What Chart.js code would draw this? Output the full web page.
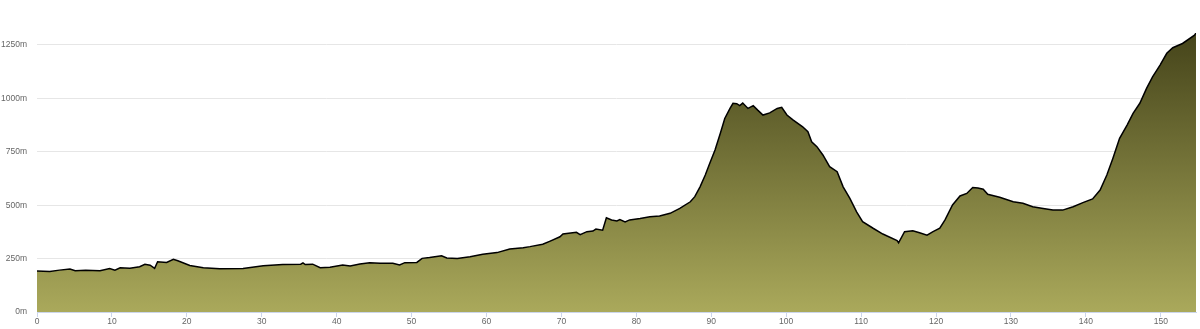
<!DOCTYPE html>
<html>
<head>
<meta charset="utf-8">
<script src="https://cdn.jsdelivr.net/npm/chart.js@4"></script>
<style>
  html, body { margin: 0; padding: 0; background: #fff; }
</style>
</head>
<body>
<canvas id="perfil" width="1200" height="329"></canvas>
<script>
const km = [
  0, 1.7, 3.0, 4.4, 5.1, 6.5, 8.4, 9.7, 10.4, 11.1, 12.4, 13.7, 14.4, 15.1, 15.7,
  16.1, 17.3, 18.2, 18.8, 20.4, 22.2, 24.4, 27.5, 30.2, 32.8, 35.2, 35.5, 35.8,
  36.8, 37.8, 39.1, 40.8, 41.8, 43.1, 44.4, 45.8, 47.5, 48.4, 49.1, 50.7, 51.4,
  52.4, 54.0, 54.7, 56.1, 57.8, 59.5, 61.4, 63.1, 64.9, 65.8, 67.5, 68.5, 69.8,
  70.2, 72.0, 72.5, 73.4, 74.2, 74.6, 75.5, 76.0, 76.7, 77.4, 77.8, 78.5, 79.1,
  80.5, 81.8, 83.1, 84.5, 85.8, 87.2, 87.8, 88.5, 89.2, 89.8, 90.5, 91.2, 91.8,
  92.5, 92.9, 93.4, 93.8, 94.2, 94.9, 95.6, 96.2, 96.9, 97.8, 98.8, 99.4, 100.1,
  100.9, 102.2, 102.9, 103.4, 104.1, 104.9, 105.8, 106.8, 107.6, 108.5, 109.4,
  110.2, 111.6, 112.9, 114.8, 115.0, 115.8, 116.9, 117.8, 118.8, 119.6, 120.5,
  121.2, 122.2, 123.2, 124.1, 124.9, 125.6, 126.3, 126.9, 128.5, 130.3, 131.6,
  132.9, 134.3, 135.6, 136.9, 138.3, 139.6, 140.9, 141.9, 142.8, 143.6, 144.5,
  145.5, 146.3, 147.2, 148.1, 148.9, 149.9, 150.8, 151.6, 152.9, 154.5, 154.7
];
const altitud = [
  192, 190, 196, 201, 193, 195, 193, 204, 196, 207, 205, 212, 223, 219, 204,
  235, 232, 247, 240, 218, 207, 202, 204, 217, 222, 224, 230, 222,
  224, 207, 210, 220, 215, 225, 231, 228, 228, 220, 231, 232, 251,
  255, 263, 253, 251, 259, 270, 278, 295, 301, 306, 317, 332, 352,
  365, 373, 362, 376, 379, 388, 383, 441, 431, 426, 433, 422, 431,
  438, 446, 449, 462, 485, 516, 540, 586, 641, 696, 758, 836, 906,
  953, 977, 975, 966, 978, 953, 966, 945, 922, 932, 953, 958, 922,
  899, 867, 844, 797, 774, 735, 680, 657, 586, 532, 469,
  423, 392, 365, 334, 324, 376, 380, 371, 360, 376, 392,
  431, 501, 543, 555, 583, 580, 575, 551, 537, 516, 509,
  493, 485, 477, 477, 493, 512, 529, 571, 641, 719, 813,
  875, 930, 977, 1047, 1101, 1156, 1211, 1237, 1257, 1296, 1306
];
const ticksX = [0, 10, 20, 30, 40, 50, 60, 70, 80, 90, 100, 110, 120, 130, 140, 150];
const ticksY = [0, 250, 500, 750, 1000, 1250];

const puntos = km.map((k, i) => ({ x: k, y: altitud[i] }));

function degradado(ctx) {
  const area = ctx.chart.chartArea;
  if (!area) return "#8a8a45";
  const g = ctx.chart.ctx.createLinearGradient(0, area.top, 0, area.bottom);
  g.addColorStop(0, "#45441a");
  g.addColorStop(1, "#aaa95b");
  return g;
}

new Chart(document.getElementById("perfil"), {
  type: "line",
  data: {
    datasets: [
      {
        data: puntos,
        borderColor: "#000",
        borderWidth: 1.5,
        backgroundColor: degradado,
        fill: "origin",
        pointRadius: 0,
        tension: 0,
      },
    ],
  },
  options: {
    responsive: false,
    animation: false,
    layout: { padding: { top: 33, right: 4, left: 0, bottom: 0 } },
    plugins: { legend: { display: false }, tooltip: { enabled: false } },
    scales: {
      x: {
        type: "linear",
        min: 0,
        max: 154.7,
        afterBuildTicks: (s) => {
          s.ticks = ticksX.map((v) => ({ value: v }));
        },
        afterFit: (s) => { s.height = 17; },
        ticks: {
          padding: 0,
          color: "#666",
          font: { family: "Liberation Sans", size: 8.5 },
          maxRotation: 0,
          autoSkip: false,
        },
        grid: {
          drawOnChartArea: false,
          drawTicks: true,
          tickLength: 5,
          color: "#ccd6eb",
        },
        border: { display: true, color: "#ccd6eb" },
      },
      y: {
        min: 0,
        max: 1306,
        afterBuildTicks: (s) => {
          s.ticks = ticksY.map((v) => ({ value: v }));
        },
        afterFit: (s) => { s.width = 37; },
        ticks: {
          padding: 10,
          color: "#666",
          font: { family: "Liberation Sans", size: 8.5 },
          callback: (v) => v + "m",
        },
        grid: { color: "#e6e6e6", drawTicks: false },
        border: { display: false },
      },
    },
  },
});
</script>
</body>
</html>
